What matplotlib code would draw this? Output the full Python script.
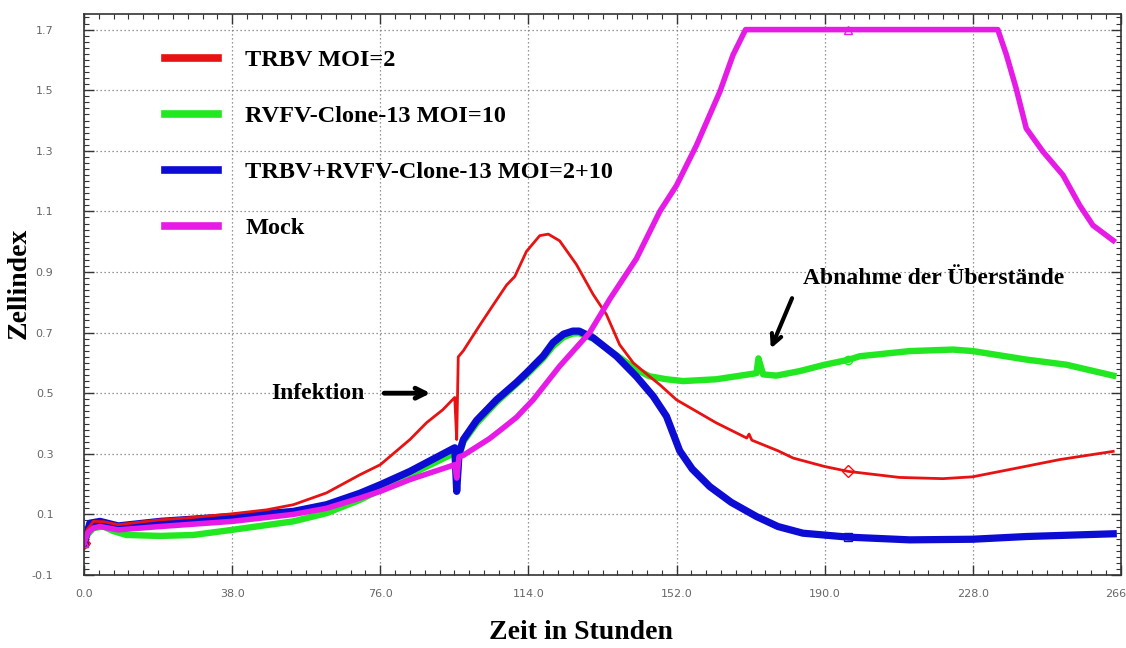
import numpy as np
from matplotlib import pyplot as plt
from matplotlib.lines import Line2D

# --- data (Zeit in Stunden / Zellindex) ---
trbv_t = [0, 0.8, 2.4, 5, 8.8, 14, 19.5, 28, 38, 46.8, 53.7, 62.2, 70.8, 76, 83.6, 87.9, 92,
          95.1, 95.6, 96.0, 97.3, 101.5, 104.9, 108.4, 110.5, 113.5, 116.9, 119.1, 122,
          126.3, 130.6, 134, 137.4, 140.9, 145.1, 147.7, 152, 162.2, 170, 170.6, 171.3,
          178, 181.9, 190, 196, 209.2, 220.3, 227.9, 237.4, 250.3, 264]
trbv_v = [0.005, 0.05, 0.077, 0.076, 0.066, 0.074, 0.082, 0.09, 0.102, 0.115, 0.132, 0.171,
          0.231, 0.264, 0.347, 0.403, 0.445, 0.486, 0.347, 0.62, 0.64, 0.724, 0.79, 0.857,
          0.885, 0.968, 1.02, 1.025, 1.003, 0.925, 0.826, 0.76, 0.66, 0.6, 0.555, 0.528,
          0.478, 0.402, 0.352, 0.365, 0.345, 0.31, 0.286, 0.258, 0.242, 0.222, 0.218, 0.224,
          0.248, 0.281, 0.308]

rvfv_t = [0, 1, 2.4, 5, 7.5, 10.9, 19.5, 28, 38, 53.7, 62.2, 70.8, 76, 83.6, 95.1, 95.6,
          96.2, 97.3, 100.7, 105.8, 110.9, 113.5, 117.8, 120.3, 123, 125.4, 127, 130.6,
          136.6, 141.7, 145, 149.4, 153.7, 162.2, 172.5, 173, 174.2, 177.6, 183.6, 190,
          196, 199, 211.8, 222.9, 228, 241.7, 252, 264]
rvfv_v = [0.005, 0.035, 0.055, 0.06, 0.045, 0.032, 0.029, 0.032, 0.049, 0.077, 0.104, 0.148,
          0.181, 0.231, 0.303, 0.2, 0.29, 0.34, 0.4, 0.47, 0.53, 0.56, 0.615, 0.655, 0.685,
          0.697, 0.698, 0.68, 0.625, 0.578, 0.556, 0.546, 0.54, 0.546, 0.566, 0.615, 0.562,
          0.558, 0.573, 0.594, 0.61, 0.622, 0.639, 0.644, 0.639, 0.611, 0.594, 0.558]

combo_t = [0, 1.5, 4.1, 8.8, 19.5, 38, 53.7, 62.2, 70.8, 76, 83.6, 95.1, 95.6, 96.2, 97.3,
           100.7, 105.8, 110.9, 113.5, 117.8, 120.3, 123, 125.4, 127, 130.6, 136.6, 141.7,
           146, 149.4, 152.8, 156, 160.5, 166, 172.5, 178, 184.4, 196, 211.8, 227.9, 241.7, 264]
combo_v = [0.005, 0.071, 0.077, 0.062, 0.077, 0.093, 0.11, 0.132, 0.17, 0.198, 0.242, 0.32,
           0.176, 0.3, 0.347, 0.41, 0.478, 0.535, 0.567, 0.623, 0.667, 0.695, 0.705, 0.705,
           0.683, 0.622, 0.555, 0.49, 0.424, 0.31, 0.25, 0.192, 0.14, 0.093, 0.06, 0.038,
           0.025, 0.016, 0.018, 0.027, 0.036]

mock_t = [0, 1, 2.4, 4.1, 8.8, 19.5, 38, 53.7, 62.2, 70.8, 76, 83.6, 95.1, 95.6, 96.2, 97.3,
          104, 107, 110.9, 115.2, 122, 129.7, 134.9, 141.7, 147.7, 152, 157.1, 163.1, 166.5,
          169.7, 196, 234.4, 236.6, 239.1, 241.7, 246, 251.1, 255.4, 258.8, 264]
mock_v = [0.005, 0.04, 0.055, 0.06, 0.049, 0.06, 0.077, 0.1, 0.12, 0.154, 0.176, 0.215,
          0.264, 0.22, 0.29, 0.295, 0.35, 0.38, 0.42, 0.478, 0.589, 0.7, 0.811, 0.944, 1.1,
          1.186, 1.318, 1.495, 1.617, 1.7, 1.7, 1.7, 1.617, 1.506, 1.374, 1.297, 1.22, 1.12,
          1.054, 1.004]

labels = ['TRBV MOI=2', 'RVFV-Clone-13 MOI=10', 'TRBV+RVFV-Clone-13 MOI=2+10', 'Mock']
colors = ['#e81212', '#22e822', '#0c0cd4', '#e61ce6']
x_ticks = [0, 38, 76, 114, 152, 190, 228, 266]
y_ticks = [-0.1, 0.1, 0.3, 0.5, 0.7, 0.9, 1.1, 1.3, 1.5, 1.7]

serif = ['Liberation Serif', 'DejaVu Serif']

fig = plt.figure(figsize=(11.26, 6.48), dpi=100)
ax = fig.add_axes([84 / 1126, 73 / 648, 1037 / 1126, 561 / 648])


def marks(t):
    # instrument marks at the first point and at 196 h
    return [0, t.index(196)]


series = [(rvfv_t, rvfv_v, 1, 4.6, 'o'),
          (combo_t, combo_v, 2, 5.2, 's'),
          (trbv_t, trbv_v, 0, 2.0, 'D'),
          (mock_t, mock_v, 3, 4.0, '^')]
for t, v, i, lw, mk in series:
    ax.plot(t, v, color=colors[i], lw=lw, solid_joinstyle='round',
            marker=mk, markevery=marks(t), markersize=6, mfc='none', mec=colors[i], mew=1)

ax.set_xlim(0, 266)
ax.set_ylim(-0.1, 1.7515)
ax.set_xticks(x_ticks)
ax.set_xticks(np.arange(0, 266.1, 3.8), minor=True)
ax.set_yticks(y_ticks)
ax.set_yticks(np.arange(-0.1, 1.75, 0.02), minor=True)
ax.set_xticklabels([f'{x:.1f}' for x in x_ticks])
ax.set_yticklabels([f'{y:.1f}' for y in y_ticks])
ax.tick_params(which='both', direction='in', top=True, right=True, color='#333333')
ax.tick_params(which='major', length=7, width=1)
ax.tick_params(which='minor', length=3.5, width=0.8)
ax.tick_params(axis='x', labelsize=8, labelcolor='#666666', pad=10)
ax.tick_params(axis='y', labelsize=8, labelcolor='#666666', pad=22)
for s in ax.spines.values():
    s.set_color('#333333')
    s.set_linewidth(1.2)
ax.grid(True, which='major', linestyle=(0, (1, 2.2)), color='#777777', linewidth=0.9)

ax.set_xlabel('Zeit in Stunden', family=serif, weight='bold', fontsize=20)
ax.xaxis.set_label_coords(0.479, -0.103)
ax.xaxis.label.set_va('center')
ax.set_ylabel('Zellindex', family=serif, weight='bold', fontsize=20)
ax.yaxis.set_label_coords(-0.063, 0.519)
ax.yaxis.label.set_va('center')

handles = [Line2D([], [], color=c, lw=5.5) for c in colors]
ax.legend(handles, labels, loc='upper left', bbox_to_anchor=(0.078, 0.9375), frameon=False,
          prop={'family': serif, 'weight': 'bold', 'size': 17.5},
          handlelength=2.2, handletextpad=1.1, labelspacing=1.4,
          borderaxespad=0, borderpad=0)

ax.text(48.1, 0.5, 'Infektion', family=serif, weight='bold', fontsize=17,
        ha='left', va='center')
ax.annotate('', xy=(89.6, 0.5), xytext=(76.3, 0.5),
            arrowprops=dict(arrowstyle='->', lw=3.5, color='black', mutation_scale=18))
ax.text(184.4, 0.878, 'Abnahme der Überstände', family=serif, weight='bold', fontsize=17,
        ha='left', va='center')
ax.annotate('', xy=(175.9, 0.639), xytext=(181.9, 0.822),
            arrowprops=dict(arrowstyle='->', lw=3, color='black', mutation_scale=18))

plt.savefig('out.png', dpi=100)
